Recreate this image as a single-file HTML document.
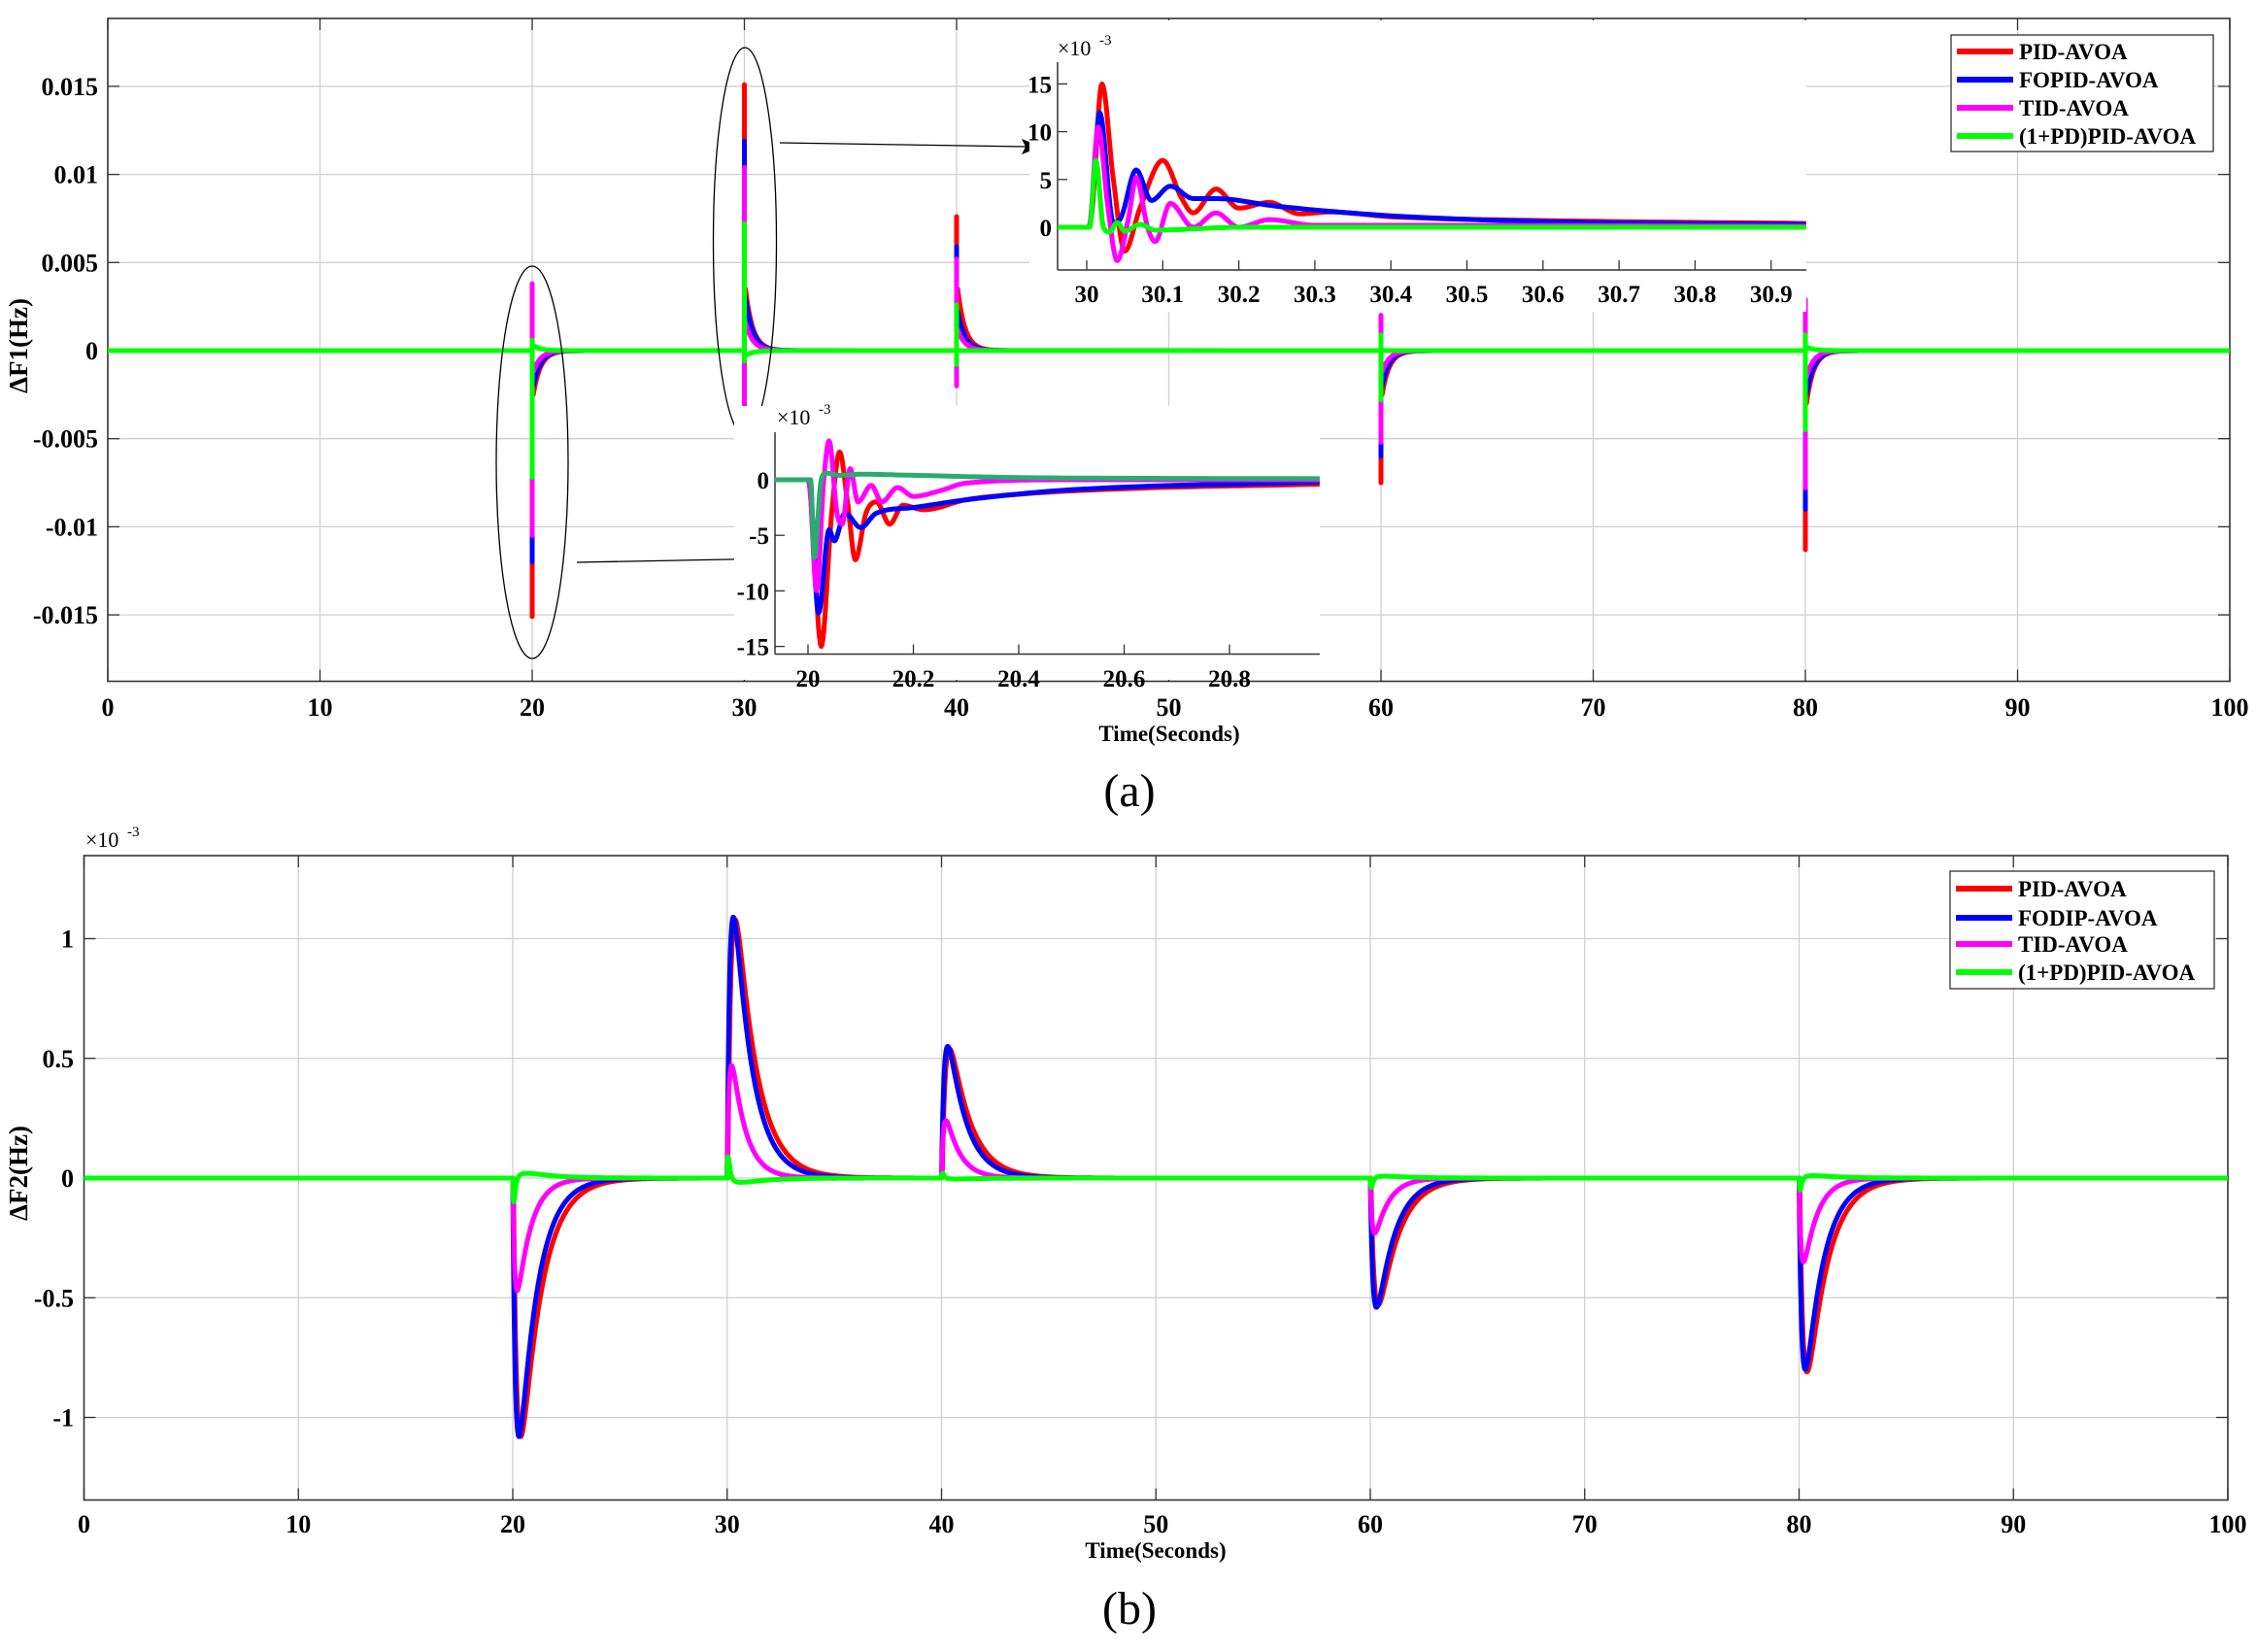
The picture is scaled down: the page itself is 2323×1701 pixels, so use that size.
<!DOCTYPE html>
<html><head><meta charset="utf-8">
<style>
html,body{margin:0;padding:0;background:#fff;}
svg{display:block;}
text{font-family:"Liberation Serif",serif;}
</style></head>
<body>
<svg id="s" width="2323" height="1701" viewBox="0 0 2323 1701" xmlns="http://www.w3.org/2000/svg">
<rect width="2323" height="1701" fill="#fff"/>
<g id="g"></g>
<text x="33" y="361" font-size="27" font-weight="bold" text-anchor="middle" transform="rotate(-90 28 361)">ΔF1(Hz)</text>
<text x="33" y="1213" font-size="27" font-weight="bold" text-anchor="middle" transform="rotate(-90 28 1213)">ΔF2(Hz)</text>
<text x="1204" y="763" font-size="23" font-weight="bold" text-anchor="middle">Time(Seconds)</text>
<text x="1190" y="1604" font-size="23" font-weight="bold" text-anchor="middle">Time(Seconds)</text>
<text x="1163" y="830" font-size="48" text-anchor="middle">(a)</text>
<text x="1163" y="1672" font-size="48" text-anchor="middle">(b)</text>
</svg>
<script>
var NS="http://www.w3.org/2000/svg";
var G=document.getElementById("g");
function el(n,a,txt){var e=document.createElementNS(NS,n);for(var k in a)e.setAttribute(k,a[k]);if(txt!==undefined)e.textContent=txt;G.appendChild(e);return e;}
function txt(x,y,s,o){o=o||{};var a={x:x,y:y,"font-size":o.fs||26,"font-weight":o.fw||"bold","text-anchor":o.anchor||"middle",fill:"#000"};return el("text",a,s);}
function poly(pts,c,w){var d="";for(var i=0;i<pts.length;i++)d+=(i?"L":"M")+pts[i][0].toFixed(1)+" "+pts[i][1].toFixed(1);el("path",{d:d,fill:"none",stroke:c,"stroke-width":w,"stroke-linejoin":"round","stroke-linecap":"butt"});}
var RED="#ff0000",BLUE="#0000ff",MAG="#ff00ff",GRN="#00ff00";
function x10(x,y){el("text",{x:x,y:y,"font-size":22,fill:"#000"},"×10");el("text",{x:x+43,y:y-11,"font-size":15,fill:"#000"},"-3");}

var L1=111,R1=2296,T1=19,B1=701.5;
function X1(t){return L1+(t)*21.85;}
function Y1(v){return 361-v/0.005*90.7;}
for(var i=1;i<10;i++){var x=X1(i*10);el("line",{x1:x,y1:T1,x2:x,y2:B1,stroke:"#cfcfcf","stroke-width":1.3});}
[-0.015,-0.01,-0.005,0,0.005,0.01,0.015].forEach(function(v){el("line",{x1:L1,y1:Y1(v),x2:R1,y2:Y1(v),stroke:"#cfcfcf","stroke-width":1.3});});
el("rect",{x:L1,y:T1,width:R1-L1,height:B1-T1,fill:"none",stroke:"#333","stroke-width":1.6});
for(var i=0;i<=10;i++){var x=X1(i*10);el("line",{x1:x,y1:B1,x2:x,y2:B1-12,stroke:"#333","stroke-width":1.3});el("line",{x1:x,y1:T1,x2:x,y2:T1+12,stroke:"#333","stroke-width":1.3});txt(x,737,String(i*10));}
[["-0.015",-0.015],["-0.01",-0.01],["-0.005",-0.005],["0",0],["0.005",0.005],["0.01",0.01],["0.015",0.015]].forEach(function(p){var y=Y1(p[1]);el("line",{x1:L1,y1:y,x2:L1+12,y2:y,stroke:"#333","stroke-width":1.3});el("line",{x1:R1,y1:y,x2:R1-12,y2:y,stroke:"#333","stroke-width":1.3});txt(101,y+9,p[0],{anchor:"end"});});

var ev={
 red:[[20,0.5,-15.1,-2.5],[30,15.1,-0.5,3.5],[40,7.6,-0.5,3.5],[60,0.5,-7.5,-2.5],[80,0.5,-11.3,-3]],
 blue:[[20,0,-12,-2],[30,11.9,-0.5,3],[40,5.9,0,2.2],[60,0,-6,-2],[80,0,-9,-2.5]],
 mag:[[20,3.8,-10.5,-1.2],[30,10.4,-3.9,1.6],[40,5.2,-2.0,1.2],[60,2,-5.2,-1.2],[80,2.9,-7.8,-1.5]],
 grn:[[20,0.6,-7.2,0.3],[30,7.2,-0.6,-0.3],[40,2.6,-0.8,0],[60,0.9,-2.8,0],[80,0.9,-4.5,0.2]]
};
function topSeries(list,c){var pts=[[X1(0),Y1(0)]];list.forEach(function(e){var T=e[0];pts.push([X1(T),Y1(0)]);pts.push([X1(T),Y1(e[1]*1e-3)]);pts.push([X1(T),Y1(e[2]*1e-3)]);pts.push([X1(T),Y1(e[3]*1e-3)]);for(var t=0;t<=2.5;t+=0.05){pts.push([X1(T+0.05+t),Y1(e[3]*1e-3*Math.exp(-t/0.35))]);}});pts.push([X1(100),Y1(0)]);poly(pts,c,5);}
topSeries(ev.red,RED);topSeries(ev.blue,BLUE);topSeries(ev.mag,MAG);topSeries(ev.grn,GRN);

el("ellipse",{cx:548,cy:476,rx:37,ry:202,fill:"none",stroke:"#000","stroke-width":1.3});
el("ellipse",{cx:767,cy:249,rx:32.5,ry:200,fill:"none",stroke:"#000","stroke-width":1.3});
el("line",{x1:803,y1:147,x2:1058,y2:151,stroke:"#000","stroke-width":1.3});
el("path",{d:"M1072 151 L1052 143 L1056 151 L1052 159 Z",fill:"#000"});
el("line",{x1:594,y1:579,x2:778,y2:575.5,stroke:"#000","stroke-width":1.3});
el("path",{d:"M792 575 L772 567 L776 575 L772 583 Z",fill:"#000"});

function mono(k,step){var n=k.length,d=[],m=[];for(var i=0;i<n-1;i++)d.push((k[i+1][1]-k[i][1])/(k[i+1][0]-k[i][0]));m[0]=d[0];m[n-1]=d[n-2];for(var i=1;i<n-1;i++){m[i]=(d[i-1]*d[i]<=0)?0:(d[i-1]+d[i])/2;}
for(var i=0;i<n-1;i++){if(d[i]==0){m[i]=0;m[i+1]=0;continue;}var a=m[i]/d[i],b=m[i+1]/d[i],s=a*a+b*b;if(s>9){var t=3/Math.sqrt(s);m[i]=t*a*d[i];m[i+1]=t*b*d[i];}}
var out=[];for(var i=0;i<n-1;i++){var h=k[i+1][0]-k[i][0];for(var s=0;s<step;s++){var u=s/step,h00=2*u*u*u-3*u*u+1,h10=u*u*u-2*u*u+u,h01=-2*u*u*u+3*u*u,h11=u*u*u-u*u;out.push([k[i][0]+u*h,h00*k[i][1]+h10*h*m[i]+h01*k[i+1][1]+h11*h*m[i+1]]);}}out.push(k[n-1]);return out;}
function ins(k,c,w,X,Y){poly(mono(k,12).map(function(p){return [X(p[0]),Y(p[1])];}),c,w);}

el("rect",{x:1060,y:21,width:800,height:300,fill:"#fff"});
var iL=1089,iR=1860,iT=64,iB=278;
function XI(t){return 1119+(t-30)*783;}
function YI(v){return 234-v*9.84;}
el("line",{x1:iL,y1:iT,x2:iL,y2:iB,stroke:"#333","stroke-width":1.5});
el("line",{x1:iL,y1:iB,x2:iR,y2:iB,stroke:"#333","stroke-width":1.5});
for(var i=0;i<=9;i++){var x=XI(30+i*0.1);el("line",{x1:x,y1:iB,x2:x,y2:iB-10,stroke:"#333","stroke-width":1.3});txt(x,311,i==0?"30":(30+i/10).toFixed(1),{fs:25});}
[0,5,10,15].forEach(function(v){var y=YI(v);el("line",{x1:iL,y1:y,x2:iL+10,y2:y,stroke:"#333","stroke-width":1.3});txt(iL-6,y+9,String(v),{anchor:"end",fs:25});});
x10(1089,57);
ins([[29.962,0],[30.0,0],[30.006,1],[30.02,15],[30.035,5],[30.05,-2.5],[30.07,2],[30.1,7],[30.125,3],[30.14,1.5],[30.17,4],[30.2,2],[30.24,2.6],[30.28,1.4],[30.32,1.6],[30.4,1.1],[30.6,0.7],[30.946,0.4]],RED,5,XI,YI);
ins([[29.962,0],[30.003,0],[30.017,12],[30.035,0.5],[30.045,1],[30.065,6],[30.085,2.8],[30.11,4.3],[30.14,3],[30.17,3],[30.25,2.2],[30.4,1.2],[30.6,0.6],[30.946,0.3]],BLUE,5,XI,YI);
ins([[29.962,0],[30.003,0],[30.015,10.5],[30.028,2],[30.04,-3.5],[30.055,1],[30.065,5.2],[30.08,0],[30.09,-1.5],[30.11,2.5],[30.14,0],[30.17,1.5],[30.2,0],[30.24,0.8],[30.3,0.2],[30.4,0.2],[30.946,0.1]],MAG,5,XI,YI);
ins([[29.962,0],[30.004,0],[30.012,7],[30.022,0],[30.03,-0.5],[30.04,0.5],[30.05,-0.4],[30.07,0.3],[30.09,-0.3],[30.2,0],[30.946,0]],GRN,5,XI,YI);

el("rect",{x:756,y:418,width:603,height:282,fill:"#fff"});
var jL=798,jR=1359,jT=445,jB=673.5;
function XJ(t){return 832+(t-20)*542.5;}
function YJ(v){return 494-v*11.44;}
el("line",{x1:jL,y1:jT,x2:jL,y2:jB,stroke:"#333","stroke-width":1.5});
el("line",{x1:jL,y1:jB,x2:jR,y2:jB,stroke:"#333","stroke-width":1.5});
["20","20.2","20.4","20.6","20.8"].forEach(function(s,i){var x=XJ(20+i*0.2);el("line",{x1:x,y1:jB,x2:x,y2:jB-10,stroke:"#333","stroke-width":1.3});txt(x,707,s,{fs:25});});
[[0,"0"],[-5,"-5"],[-10,"-10"],[-15,"-15"]].forEach(function(p){var y=YJ(p[0]);el("line",{x1:jL,y1:y,x2:jL+10,y2:y,stroke:"#333","stroke-width":1.3});txt(jL-6,y+9,p[1],{anchor:"end",fs:25});});
x10(800,437);
ins([[19.937,0],[20.0,0],[20.005,-1],[20.025,-15],[20.045,-3],[20.06,2.5],[20.075,-2],[20.09,-7.2],[20.11,-3],[20.13,-2],[20.155,-4],[20.18,-2.3],[20.22,-2.7],[20.3,-1.8],[20.4,-1.3],[20.6,-0.8],[20.971,-0.4]],RED,5,XJ,YJ);
ins([[19.937,0],[20.0,0],[20.004,-1],[20.02,-12],[20.04,-4.5],[20.05,-5.5],[20.07,-3],[20.1,-4.3],[20.13,-3],[20.2,-2.5],[20.3,-1.8],[20.5,-0.9],[20.971,-0.2]],BLUE,5,XJ,YJ);
ins([[19.937,0],[20.0,0],[20.004,-1],[20.016,-10],[20.03,0],[20.04,3.5],[20.055,-3],[20.065,-4],[20.08,1],[20.095,-2],[20.12,-0.5],[20.14,-2],[20.17,-0.7],[20.2,-1.5],[20.25,-1],[20.3,-0.3],[20.5,0],[20.971,0]],MAG,5,XJ,YJ);
ins([[19.937,0],[20.005,0],[20.012,-7],[20.025,0],[20.035,0.6],[20.06,0.4],[20.1,0.5],[20.2,0.4],[20.4,0.2],[20.971,0.1]],"#2bab6e",5,XJ,YJ);

function legend(x0,y0,w,h,ys,names){el("rect",{x:x0,y:y0,width:w,height:h,fill:"#fff",stroke:"#333","stroke-width":1.3});var cs=[RED,BLUE,MAG,GRN];names.forEach(function(n,i){el("line",{x1:x0+6,y1:ys[i],x2:x0+64,y2:ys[i],stroke:cs[i],"stroke-width":6});txt(x0+70,ys[i]+8,n,{anchor:"start",fs:23});});}
legend(2009,36,270,120,[53,82,111,140],["PID-AVOA","FOPID-AVOA","TID-AVOA","(1+PD)PID-AVOA"]);

var L2=86.5,R2=2294,T2=881,B2=1544.5;
function X2(t){return L2+t*22.075;}
function Y2(v){return 1213-v*246.5;}
for(var i=1;i<10;i++){var x=X2(i*10);el("line",{x1:x,y1:T2,x2:x,y2:B2,stroke:"#cfcfcf","stroke-width":1.3});}
[-1,-0.5,0,0.5,1].forEach(function(v){el("line",{x1:L2,y1:Y2(v),x2:R2,y2:Y2(v),stroke:"#cfcfcf","stroke-width":1.3});});
el("rect",{x:L2,y:T2,width:R2-L2,height:B2-T2,fill:"none",stroke:"#333","stroke-width":1.6});
for(var i=0;i<=10;i++){var x=X2(i*10);el("line",{x1:x,y1:B2,x2:x,y2:B2-12,stroke:"#333","stroke-width":1.3});el("line",{x1:x,y1:T2,x2:x,y2:T2+12,stroke:"#333","stroke-width":1.3});txt(x,1578,String(i*10));}
[[-1,"-1"],[-0.5,"-0.5"],[0,"0"],[0.5,"0.5"],[1,"1"]].forEach(function(p){var y=Y2(p[0]);el("line",{x1:L2,y1:y,x2:L2+12,y2:y,stroke:"#333","stroke-width":1.3});el("line",{x1:R2,y1:y,x2:R2-12,y2:y,stroke:"#333","stroke-width":1.3});txt(76,y+9,p[1],{anchor:"end"});});
x10(88,872);

function shape(tr,td){var m=0;for(var t=0;t<10;t+=0.005){var v=Math.exp(-t/td)-Math.exp(-t/tr);if(v>m)m=v;}return function(t){if(t<0)return 0;return (Math.exp(-t/td)-Math.exp(-t/tr))/m;};}
var sR=shape(0.16,0.95),sB=shape(0.13,0.85),sM=shape(0.09,0.65),sG=shape(0.03,0.07),sG2=shape(0.3,1.2);
var evs=[[20,-1.08,-1.08,-0.47,-0.1],[30,1.08,1.09,0.47,0.09],[40,0.54,0.55,0.24,0.02],[60,-0.53,-0.54,-0.23,-0.04],[80,-0.81,-0.8,-0.35,-0.05]];
function bot(fn,idx,c){var pts=[];for(var t=0;t<=100.001;t+=0.02){var v=0;evs.forEach(function(e){v+=fn(t-e[0],e[idx]);});pts.push([X2(t),Y2(v)]);}poly(pts,c,5);}
bot(function(t,a){return a*sR(t-0.03);},1,RED);
bot(function(t,a){return a*sB(t);},2,BLUE);
bot(function(t,a){return a*sM(t);},3,MAG);
bot(function(t,a){return a*sG(t)-a*0.2*sG2(t-0.1);},4,GRN);

legend(2008,897,272,121,[915,945,972,1001],["PID-AVOA","FODIP-AVOA","TID-AVOA","(1+PD)PID-AVOA"]);
</script>
</body></html>
